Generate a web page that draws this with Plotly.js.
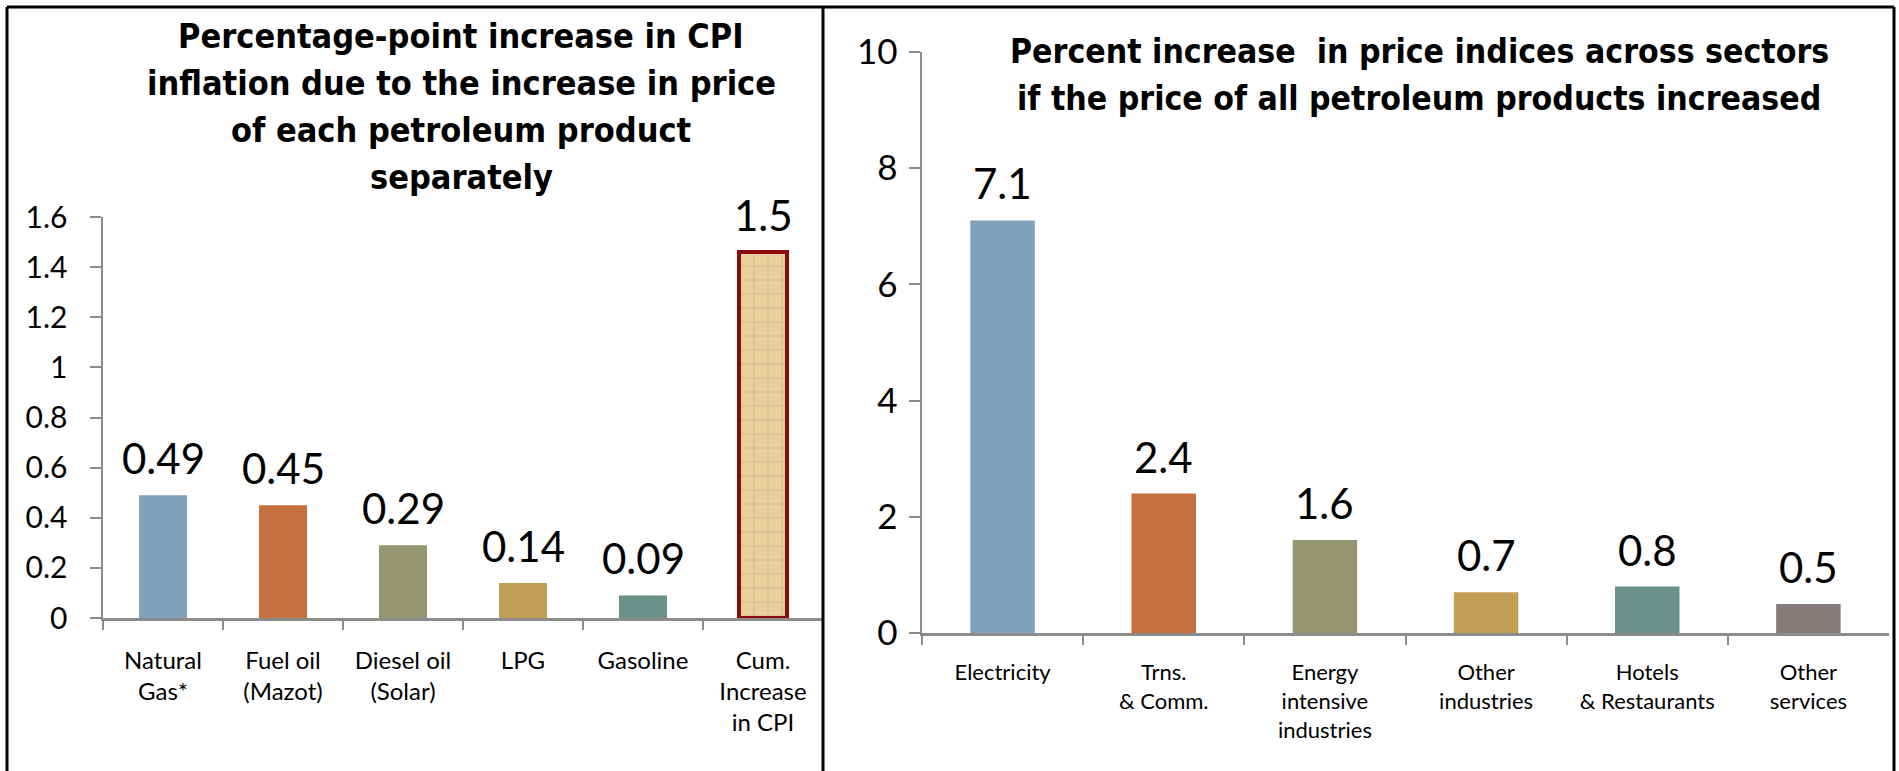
<!DOCTYPE html>
<html>
<head>
<meta charset="utf-8">
<script src="https://cdn.plot.ly/plotly-3.0.1.min.js"></script>
<style>
  html, body { margin: 0; padding: 0; background: #fff; }
  #chart { width: 1899px; height: 771px; }
</style>
</head>
<body>
<div id="chart"></div>
<script>
// Left panel: CPI impact of each petroleum product
var productNames = ["Natural<br>Gas*", "Fuel oil<br>(Mazot)", "Diesel oil<br>(Solar)", "LPG", "Gasoline", "Cum.<br>Increase<br>in CPI"];
var productValues = [0.49, 0.45, 0.29, 0.14, 0.09, 1.46];
var productLabels = ["0.49", "0.45", "0.29", "0.14", "0.09", "1.5"];

// Right panel: price index increase by sector
var sectorNames = ["Electricity", "Trns.<br>& Comm.", "Energy<br>intensive<br>industries", "Other<br>industries", "Hotels<br>& Restaurants", "Other<br>services"];
var sectorValues = [7.1, 2.4, 1.6, 0.7, 0.8, 0.5];
var sectorLabels = ["7.1", "2.4", "1.6", "0.7", "0.8", "0.5"];

var leftTitle = ["Percentage-point increase in CPI", "inflation due to the increase in price", "of each petroleum product", "separately"];
var rightTitle = ["Percent increase  in price indices across sectors", "if the price of all petroleum products increased"];

var barColors = ["#80A1BC", "#C5703E", "#939670", "#C19E53", "#6B9288", "#857B7A"];
var cumColor = "#E8D29C";

// page is 1899x771, helpers to go from pixels to paper coords
var W = 1899, H = 771;
function px(v) { return v / W; }
function py(v) { return 1 - v / H; }

var textFont = "Lato, 'Open Sans', sans-serif";
var titleFont = "'Liberation Sans Narrow', 'DejaVu Sans Condensed', 'Arial Narrow', sans-serif";
var axisGrey = "#8C8C8C";

var trace1 = {
    x: productNames,
    y: productValues,
    type: 'bar',
    xaxis: 'x',
    yaxis: 'y',
    marker: {
        color: barColors.slice(0, 5).concat([cumColor]),
        line: { color: "#8B0A0A", width: [0, 0, 0, 0, 0, 4] },
        pattern: {
            shape: ["", "", "", "", "", "+"], fillmode: 'overlay',
            fgcolor: "#C9AE74", fgopacity: 0.3, size: 14, solidity: 0.08
        }
    },
    hoverinfo: 'skip'
};

var trace2 = {
    x: sectorNames,
    y: sectorValues,
    type: 'bar',
    xaxis: 'x2',
    yaxis: 'y2',
    marker: { color: barColors },
    hoverinfo: 'skip'
};

var annotations = [];

// value labels above bars
productNames.forEach(function (name, i) {
    annotations.push({
        xref: 'x', yref: 'y', x: name, y: productValues[i],
        text: productLabels[i], showarrow: false, yanchor: 'bottom', yshift: 10,
        font: { family: textFont, size: 42, color: '#000' }
    });
});
sectorNames.forEach(function (name, i) {
    annotations.push({
        xref: 'x2', yref: 'y2', x: name, y: sectorValues[i],
        text: sectorLabels[i], showarrow: false, yanchor: 'bottom', yshift: 10,
        font: { family: textFont, size: 42, color: '#000' }
    });
});

// titles, one annotation per line
leftTitle.forEach(function (line, i) {
    annotations.push({
        xref: 'paper', yref: 'paper', x: px(461), y: py(36 + i * 47),
        text: '<b>' + line + '</b>', showarrow: false, xanchor: 'center', yanchor: 'middle',
        font: { family: titleFont, size: 34, color: '#000' }
    });
});
rightTitle.forEach(function (line, i) {
    annotations.push({
        xref: 'paper', yref: 'paper', x: px(1419), y: py(52 + i * 47),
        text: '<b>' + line + '</b>', showarrow: false, xanchor: 'center', yanchor: 'middle',
        font: { family: titleFont, size: 33.5, color: '#000' }
    });
});

// outer frame and divider between the two panels
var frame = { color: '#000', width: 3 };
var shapes = [
    { type: 'line', xref: 'paper', yref: 'paper', x0: px(7), x1: px(1894), y0: py(7), y1: py(7), line: frame },
    { type: 'line', xref: 'paper', yref: 'paper', x0: px(7), x1: px(7), y0: py(7), y1: py(775), line: frame },
    { type: 'line', xref: 'paper', yref: 'paper', x0: px(823), x1: px(823), y0: py(7), y1: py(775), line: frame },
    { type: 'line', xref: 'paper', yref: 'paper', x0: px(1894), x1: px(1894), y0: py(7), y1: py(775), line: frame }
];

var xBase = {
    type: 'category', showline: true, linecolor: axisGrey, linewidth: 3,
    ticks: 'outside', tickson: 'boundaries', ticklen: 9, tickwidth: 2, tickcolor: axisGrey,
    showgrid: false, zeroline: false, fixedrange: true
};
var yBase = {
    showline: true, linecolor: axisGrey, linewidth: 2.5,
    ticks: 'outside', ticklen: 11, tickwidth: 2, tickcolor: axisGrey,
    showgrid: false, zeroline: false, fixedrange: true, tick0: 0
};

var layout = {
    width: W,
    height: H,
    margin: { l: 0, r: 0, t: 0, b: 0 },
    paper_bgcolor: '#fff',
    plot_bgcolor: '#fff',
    showlegend: false,
    bargap: 0.6,
    xaxis: Object.assign({}, xBase, {
        domain: [px(103), px(823)], anchor: 'y',
        tickfont: { family: textFont, size: 24, color: '#000' }, ticklabelstandoff: 19
    }),
    yaxis: Object.assign({}, yBase, {
        domain: [py(618), py(217)], anchor: 'x', range: [0, 1.6], dtick: 0.2,
        tickfont: { family: textFont, size: 30, color: '#000' }, ticklabelstandoff: 16
    }),
    xaxis2: Object.assign({}, xBase, {
        domain: [px(922), px(1889)], anchor: 'y2',
        tickfont: { family: textFont, size: 22, color: '#000' }, ticklabelstandoff: 18
    }),
    yaxis2: Object.assign({}, yBase, {
        domain: [py(633), py(52)], anchor: 'x2', range: [0, 10], dtick: 2,
        tickfont: { family: textFont, size: 35, color: '#000' }, ticklabelstandoff: 4
    }),
    annotations: annotations,
    shapes: shapes
};

Plotly.newPlot("chart", [trace1, trace2], layout, { staticPlot: true });
</script>
</body>
</html>
